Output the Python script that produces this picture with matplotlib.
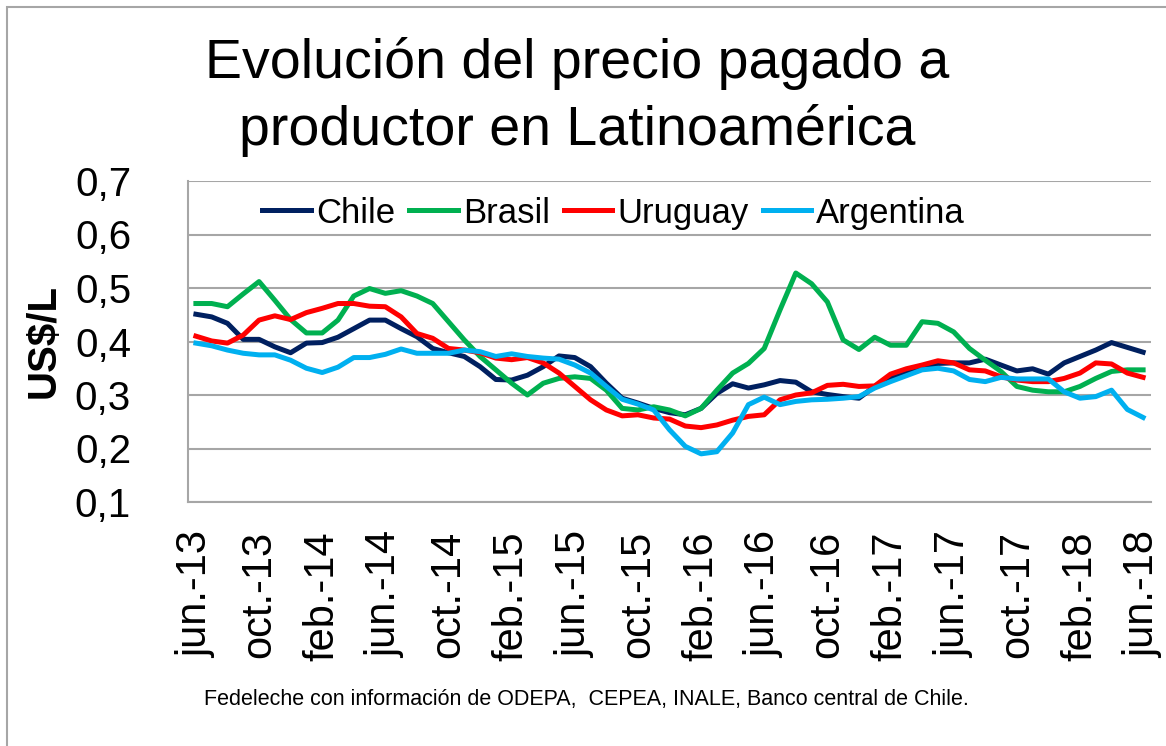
import matplotlib
matplotlib.use("Agg")
import matplotlib.pyplot as plt
from matplotlib import font_manager
from matplotlib.patches import Rectangle

# monthly series, jun-13 .. jun-18 (US$/L)
months = ["jun.-13", "jul.-13", "ago.-13", "sep.-13", "oct.-13", "nov.-13", "dic.-13", "ene.-14",
          "feb.-14", "mar.-14", "abr.-14", "may.-14", "jun.-14", "jul.-14", "ago.-14", "sep.-14",
          "oct.-14", "nov.-14", "dic.-14", "ene.-15", "feb.-15", "mar.-15", "abr.-15", "may.-15",
          "jun.-15", "jul.-15", "ago.-15", "sep.-15", "oct.-15", "nov.-15", "dic.-15", "ene.-16",
          "feb.-16", "mar.-16", "abr.-16", "may.-16", "jun.-16", "jul.-16", "ago.-16", "sep.-16",
          "oct.-16", "nov.-16", "dic.-16", "ene.-17", "feb.-17", "mar.-17", "abr.-17", "may.-17",
          "jun.-17", "jul.-17", "ago.-17", "sep.-17", "oct.-17", "nov.-17", "dic.-17", "ene.-18",
          "feb.-18", "mar.-18", "abr.-18", "may.-18", "jun.-18"]

chile = [0.451, 0.446, 0.434, 0.404, 0.404, 0.390, 0.379, 0.397, 0.398, 0.408,
         0.424, 0.440, 0.440, 0.424, 0.409, 0.387, 0.379, 0.372, 0.353, 0.329,
         0.328, 0.337, 0.353, 0.373, 0.370, 0.353, 0.322, 0.294, 0.285, 0.275,
         0.267, 0.263, 0.275, 0.303, 0.321, 0.313, 0.319, 0.327, 0.324, 0.306,
         0.301, 0.297, 0.294, 0.316, 0.331, 0.341, 0.350, 0.359, 0.360, 0.360,
         0.367, 0.356, 0.345, 0.349, 0.339, 0.360, 0.372, 0.384, 0.398, 0.389,
         0.380]
brasil = [0.471, 0.471, 0.465, 0.489, 0.512, 0.477, 0.441, 0.416, 0.416, 0.440,
          0.485, 0.499, 0.490, 0.495, 0.485, 0.471, 0.437, 0.403, 0.372, 0.347,
          0.322, 0.300, 0.322, 0.331, 0.334, 0.331, 0.309, 0.275, 0.272, 0.278,
          0.272, 0.261, 0.275, 0.309, 0.341, 0.359, 0.387, 0.459, 0.528, 0.508,
          0.474, 0.403, 0.385, 0.408, 0.393, 0.393, 0.437, 0.434, 0.418, 0.387,
          0.365, 0.344, 0.316, 0.309, 0.306, 0.306, 0.316, 0.331, 0.344, 0.347,
          0.347]
uruguay = [0.410, 0.401, 0.397, 0.412, 0.440, 0.448, 0.441, 0.454, 0.462, 0.471,
           0.471, 0.466, 0.465, 0.446, 0.415, 0.406, 0.387, 0.384, 0.379, 0.369,
           0.366, 0.370, 0.360, 0.341, 0.316, 0.291, 0.272, 0.261, 0.263, 0.257,
           0.255, 0.242, 0.239, 0.244, 0.253, 0.260, 0.263, 0.291, 0.300, 0.304,
           0.318, 0.320, 0.316, 0.317, 0.339, 0.349, 0.356, 0.364, 0.360, 0.347,
           0.345, 0.334, 0.328, 0.325, 0.325, 0.331, 0.341, 0.360, 0.358, 0.341,
           0.333]
argentina = [0.397, 0.392, 0.384, 0.378, 0.375, 0.375, 0.365, 0.350, 0.342, 0.352,
             0.370, 0.370, 0.376, 0.386, 0.378, 0.378, 0.378, 0.384, 0.381, 0.372,
             0.377, 0.372, 0.369, 0.367, 0.356, 0.341, 0.316, 0.292, 0.283, 0.272,
             0.235, 0.204, 0.190, 0.194, 0.229, 0.282, 0.296, 0.282, 0.288, 0.291,
             0.292, 0.294, 0.297, 0.313, 0.325, 0.336, 0.347, 0.350, 0.345, 0.329,
             0.325, 0.333, 0.330, 0.330, 0.330, 0.306, 0.294, 0.297, 0.309, 0.273,
             0.258]

series = [("Chile", chile, "#002060"), ("Brasil", brasil, "#00B050"),
          ("Uruguay", uruguay, "#FF0000"), ("Argentina", argentina, "#00B0F0")]
yticks = [0.1, 0.2, 0.3, 0.4, 0.5, 0.6, 0.7]

names = {f.name for f in font_manager.fontManager.ttflist}
title_font = "Liberation Sans Narrow" if "Liberation Sans Narrow" in names else "Liberation Sans"
plt.rcParams["font.family"] = ["Liberation Sans", "DejaVu Sans"]

fig = plt.figure(figsize=(11.66, 7.46), dpi=100)
ax = fig.add_axes([188 / 1166, 1 - 502 / 746, (1151 - 188) / 1166, (502 - 181) / 746])

x = list(range(len(months)))
for name, vals, col in series:
    ax.plot(x, vals, color=col, lw=3.6, label=name, solid_joinstyle="round")

ax.set_xlim(-0.5, len(months) - 0.5)
ax.set_ylim(0.1, 0.7)
ax.set_yticks(yticks)
ax.set_yticklabels([f"{v:.1f}".replace(".", ",") for v in yticks], fontsize=29)
ax.set_xticks(x[::4])
ax.set_xticklabels(months[::4], rotation=90, fontsize=30)
ax.tick_params(axis="y", length=0, pad=41)
ax.tick_params(axis="x", length=0, pad=21)
ax.grid(axis="y", color="#A6A6A6", lw=1.5)
ax.set_axisbelow(True)
for s in ["top", "right"]:
    ax.spines[s].set_visible(False)
for s in ["left", "bottom"]:
    ax.spines[s].set_color("#A6A6A6")
    ax.spines[s].set_linewidth(1.5)

ax.set_ylabel("US$/L", fontsize=29, fontweight="bold")
ax.yaxis.set_label_coords(-0.130, 0.5)

ax.legend(loc="center", bbox_to_anchor=(0.442, 0.9), ncol=4, frameon=False, fontsize=25,
          handlelength=1.4, handletextpad=0.15, columnspacing=0.4, borderaxespad=0)

fig.text(0.495, 1 - 78 / 746, "Evolución del precio pagado a", ha="center", va="baseline",
         fontsize=40, family=title_font)
fig.text(0.495, 1 - 145 / 746, "productor en Latinoamérica", ha="center", va="baseline",
         fontsize=40, family=title_font)
fig.text(0.503, 1 - 700 / 746, "Fedeleche con información de ODEPA,  CEPEA, INALE, Banco central de Chile.",
         ha="center", va="center", fontsize=15.5)

fig.patches.append(Rectangle((7 / 1166, -0.01), 1.1, 1 - 7 / 746 + 0.01, transform=fig.transFigure,
                             fill=False, edgecolor="#A6A6A6", lw=1.5))

fig.savefig("out.png", dpi=100)
